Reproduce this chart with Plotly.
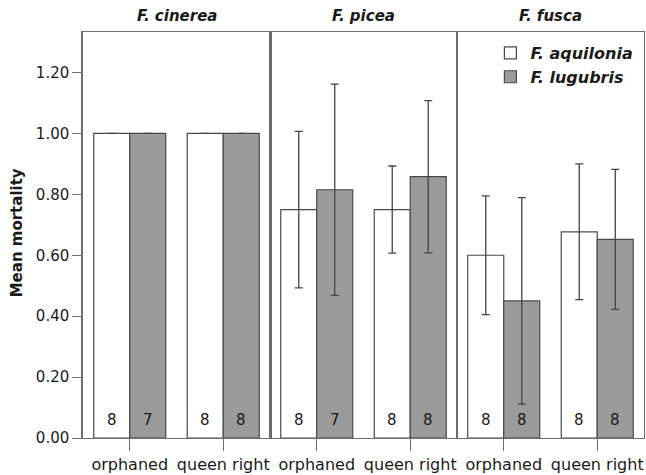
import plotly.graph_objects as go
from plotly.subplots import make_subplots

panels = ["F. cinerea", "F. picea", "F. fusca"]
treatments = ["orphaned", "queen right"]
series_names = ["F. aquilonia", "F. lugubris"]

# mean mortality per panel: [orphaned, queen right]
aquilonia_mean = [[1.00, 1.00], [0.750, 0.750], [0.600, 0.677]]
aquilonia_err = [[0.0, 0.0], [0.257, 0.143], [0.195, 0.223]]
lugubris_mean = [[1.00, 1.00], [0.815, 0.858], [0.450, 0.652]]
lugubris_err = [[0.0, 0.0], [0.347, 0.250], [0.339, 0.230]]
aquilonia_n = [[8, 8], [8, 8], [8, 8]]
lugubris_n = [[7, 8], [7, 8], [8, 8]]

y_ticks = [0.0, 0.2, 0.4, 0.6, 0.8, 1.0, 1.2]
y_tick_text = ["0.00", "0.20", "0.40", "0.60", "0.80", "1.00", "1.20"]

FONT = "DejaVu Sans"
TXT = "#1a1a1a"
FRAME = "#6e6e6e"
BAR_LINE = "#4a4a4a"
GRAY = "#9b9b9b"
ERR = "#444444"

fig = make_subplots(rows=1, cols=3, shared_yaxes=True, horizontal_spacing=0)

for i in range(3):
    col = i + 1
    fig.add_trace(go.Bar(
        x=treatments, y=aquilonia_mean[i], name="<b><i>" + series_names[0] + "</i></b>",
        marker=dict(color="white", line=dict(color=BAR_LINE, width=1.2)),
        error_y=dict(type="data", array=aquilonia_err[i], color=ERR, thickness=1.3, width=4),
        showlegend=(i == 0), legendgroup="aq",
    ), row=1, col=col)
    fig.add_trace(go.Bar(
        x=treatments, y=lugubris_mean[i], name="<b><i>" + series_names[1] + "</i></b>",
        marker=dict(color=GRAY, line=dict(color=BAR_LINE, width=1.2)),
        error_y=dict(type="data", array=lugubris_err[i], color=ERR, thickness=1.3, width=4),
        showlegend=(i == 0), legendgroup="lu",
    ), row=1, col=col)
    xref = "x" if i == 0 else "x%d" % col
    yref = "y" if i == 0 else "y%d" % col
    for j, t in enumerate(treatments):
        fig.add_annotation(x=t, y=0.058, xref=xref, yref=yref, text=str(aquilonia_n[i][j]),
                           showarrow=False, xshift=-18, font=dict(family=FONT, size=15, color=TXT))
        fig.add_annotation(x=t, y=0.058, xref=xref, yref=yref, text=str(lugubris_n[i][j]),
                           showarrow=False, xshift=18, font=dict(family=FONT, size=15, color=TXT))
    fig.add_annotation(x=0.5, y=1, xref=xref + " domain", yref="paper", yanchor="bottom", yshift=5,
                       text="<b><i>" + panels[i] + "</i></b>", showarrow=False,
                       font=dict(family=FONT, size=15, color=TXT))

for i in range(3):
    fig.update_xaxes(row=1, col=i + 1, showline=True, linecolor=FRAME, linewidth=1.3, mirror=True,
                     ticks="outside", ticklen=12, tickcolor=FRAME, tickwidth=1.3,
                     tickfont=dict(family=FONT, size=16, color=TXT), showgrid=False, zeroline=False)
    fig.update_yaxes(row=1, col=i + 1, range=[0, 1.333], showline=True, linecolor=FRAME, linewidth=1.1,
                     mirror=True, showgrid=False, zeroline=False)

fig.update_yaxes(row=1, col=1, ticks="outside", ticklen=9, tickcolor=FRAME, tickwidth=1.3,
                 tickvals=y_ticks, ticktext=y_tick_text, linewidth=1.5,
                 tickfont=dict(family=FONT, size=15, color=TXT))

fig.add_annotation(x=-0.117, y=0.505, xref="paper", yref="paper", xanchor="center", yanchor="middle",
                   text="<b>Mean mortality</b>",
                   textangle=-90, showarrow=False, font=dict(family=FONT, size=15, color=TXT))

fig.update_layout(
    width=646, height=475,
    margin=dict(l=83, r=1, t=32, b=35),
    paper_bgcolor="white", plot_bgcolor="white",
    barmode="group", bargap=0.23, bargroupgap=0,
    font=dict(family=FONT, color=TXT),
    legend=dict(x=0.99, xanchor="right", y=0.99, yanchor="top", bgcolor="rgba(0,0,0,0)",
                font=dict(family=FONT, size=16, color=TXT), tracegroupgap=0, itemwidth=30),
)

fig.write_html("out.html")
